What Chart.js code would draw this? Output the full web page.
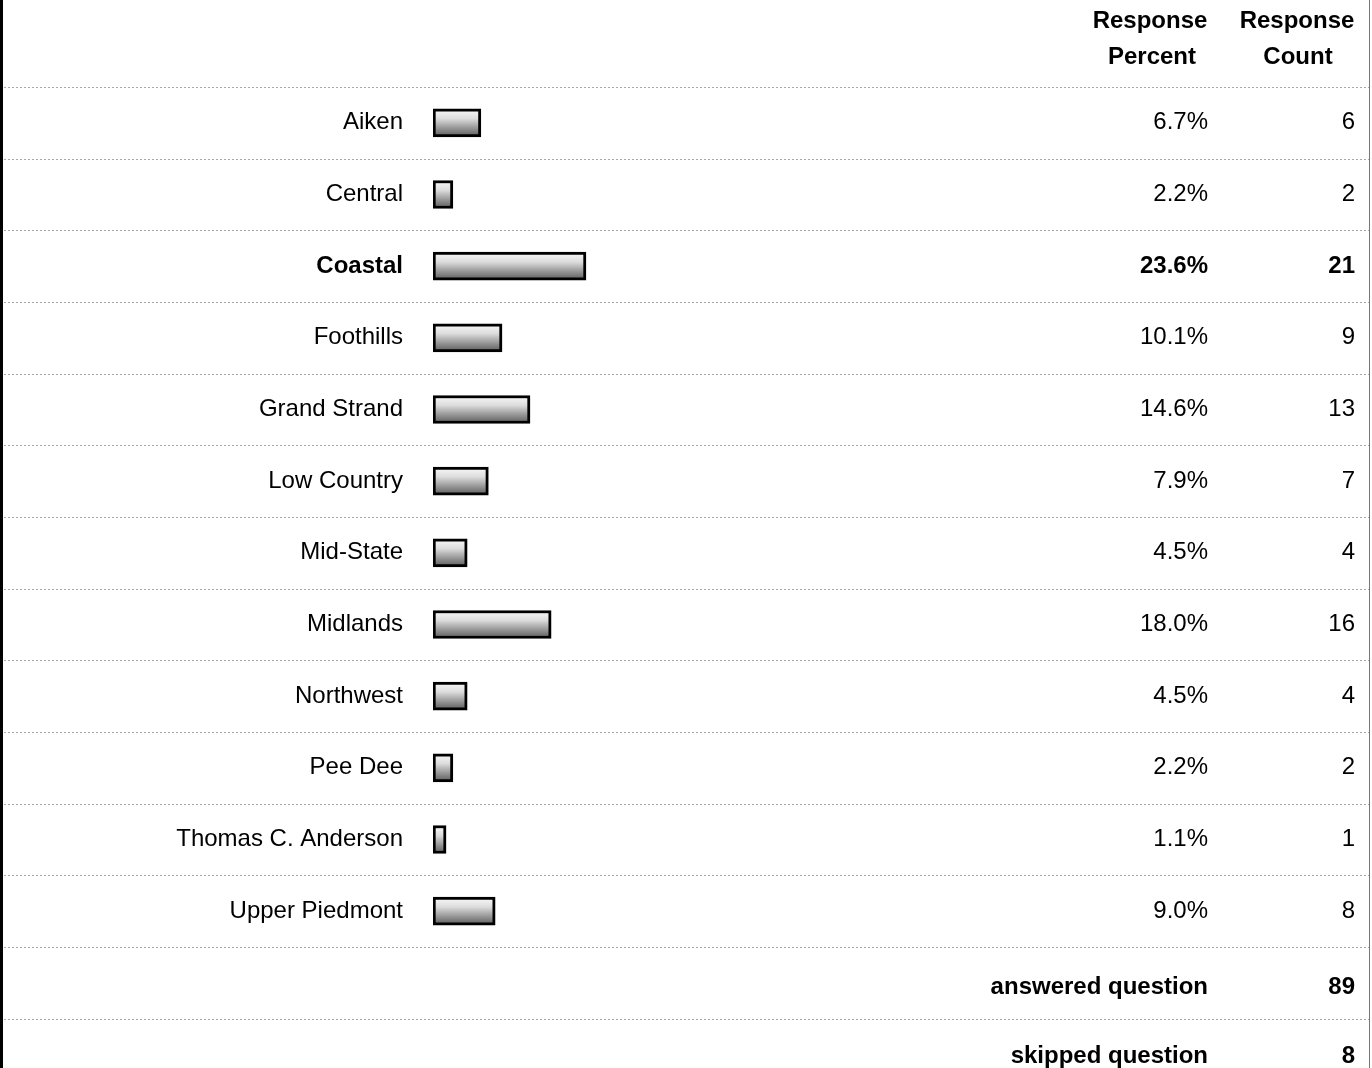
<!DOCTYPE html>
<html>
<head>
<meta charset="utf-8">
<script src="https://cdn.jsdelivr.net/npm/chart.js@4.4.1/dist/chart.umd.min.js"></script>
<style>
  html, body { margin: 0; padding: 0; background: #fff; }
  #wrap { width: 1372px; height: 1068px; position: relative; }
</style>
</head>
<body>
<div id="wrap"><canvas id="surveyChart"></canvas></div>
<script>
// survey answers
const regions = ['Aiken', 'Central', 'Coastal', 'Foothills', 'Grand Strand', 'Low Country',
    'Mid-State', 'Midlands', 'Northwest', 'Pee Dee', 'Thomas C. Anderson', 'Upper Piedmont'];
const percents = [6.7, 2.2, 23.6, 10.1, 14.6, 7.9, 4.5, 18.0, 4.5, 2.2, 1.1, 9.0];
const counts = [6, 2, 21, 9, 13, 7, 4, 16, 4, 2, 1, 8];
const headerPercent = ['Response', 'Percent'];
const headerCount = ['Response', 'Count'];
const answered = 89;
const skipped = 8;
const boldRow = 2; // Coastal is highlighted

const FONT = '"Liberation Sans", Arial, sans-serif';

function barFill(context) {
    const chart = context.chart;
    const y = chart.scales.y;
    if (!chart.chartArea || !y) return '#bbbbbb';
    const cy = y.getPixelForValue(context.dataIndex);
    const g = chart.ctx.createLinearGradient(0, cy - 14, 0, cy + 14);
    g.addColorStop(0, '#fafafa');
    g.addColorStop(0.35, '#dcdcdc');
    g.addColorStop(0.6, '#a8a8a8');
    g.addColorStop(0.75, '#8a8a8a');
    g.addColorStop(1, '#5a5a5a');
    return g;
}

// table text, separators and borders
const tablePlugin = {
    id: 'surveyTable',
    beforeDraw(chart) {
        const ctx = chart.ctx;
        const yScale = chart.scales.y;
        const step = yScale.getPixelForValue(1) - yScale.getPixelForValue(0);
        ctx.save();
        ctx.strokeStyle = '#a8a8a8';
        ctx.lineWidth = 1;
        ctx.setLineDash([2, 2]);
        for (let i = 0; i <= regions.length + 1; i++) {
            const y = Math.round(yScale.getPixelForValue(0) - step / 2 + i * step) + 0.5;
            ctx.beginPath();
            ctx.moveTo(4, y);
            ctx.lineTo(1372, y);
            ctx.stroke();
        }
        ctx.setLineDash([]);
        ctx.strokeStyle = '#000';
        ctx.lineWidth = 3;
        ctx.beginPath();
        ctx.moveTo(1.5, 0);
        ctx.lineTo(1.5, 1068);
        ctx.stroke();
        ctx.strokeStyle = '#777';
        ctx.lineWidth = 1;
        ctx.beginPath();
        ctx.moveTo(1369.5, 0);
        ctx.lineTo(1369.5, 1068);
        ctx.stroke();
        ctx.restore();
    },
    afterDraw(chart) {
        const ctx = chart.ctx;
        const yScale = chart.scales.y;
        const step = yScale.getPixelForValue(1) - yScale.getPixelForValue(0);
        ctx.save();
        ctx.fillStyle = '#000';
        ctx.textBaseline = 'middle';

        ctx.font = 'bold 24px ' + FONT;
        ctx.textAlign = 'center';
        ctx.fillText(headerPercent[0], 1150, 21);
        ctx.fillText(headerPercent[1], 1152, 57);
        ctx.fillText(headerCount[0], 1297, 21);
        ctx.fillText(headerCount[1], 1298, 57);

        ctx.textAlign = 'right';
        percents.forEach((p, i) => {
            const y = yScale.getPixelForValue(i);
            ctx.font = (i === boldRow ? 'bold ' : '') + '24px ' + FONT;
            ctx.fillText(p.toFixed(1) + '%', 1208, y);
            ctx.fillText(String(counts[i]), 1355, y);
        });

        const last = yScale.getPixelForValue(regions.length - 1);
        ctx.font = 'bold 24px ' + FONT;
        ctx.fillText('answered question', 1208, last + step + 5);
        ctx.fillText(String(answered), 1355, last + step + 5);
        ctx.fillText('skipped question', 1208, last + 2 * step + 2);
        ctx.fillText(String(skipped), 1355, last + 2 * step + 2);
        ctx.restore();
    }
};

new Chart(document.getElementById('surveyChart'), {
    type: 'bar',
    data: {
        labels: regions,
        datasets: [{
            data: percents,
            base: -1,
            backgroundColor: barFill,
            borderColor: '#000',
            borderWidth: 3,
            borderSkipped: false,
            barThickness: 28
        }]
    },
    options: {
        indexAxis: 'y',
        responsive: true,
        maintainAspectRatio: false,
        animation: false,
        layout: { padding: { top: 87, bottom: 121, left: 0, right: 342 } },
        plugins: {
            legend: { display: false },
            tooltip: { enabled: false }
        },
        scales: {
            x: {
                min: -1,
                max: 95,
                display: false
            },
            y: {
                offset: true,
                grid: { display: false },
                border: { display: false },
                afterFit(scale) { scale.width = 433; },
                ticks: {
                    color: '#000',
                    padding: 22,
                    font: ctx => ({
                        family: FONT,
                        size: 24,
                        weight: ctx.index === boldRow ? 'bold' : 'normal'
                    })
                }
            }
        }
    },
    plugins: [tablePlugin]
});
</script>
</body>
</html>
